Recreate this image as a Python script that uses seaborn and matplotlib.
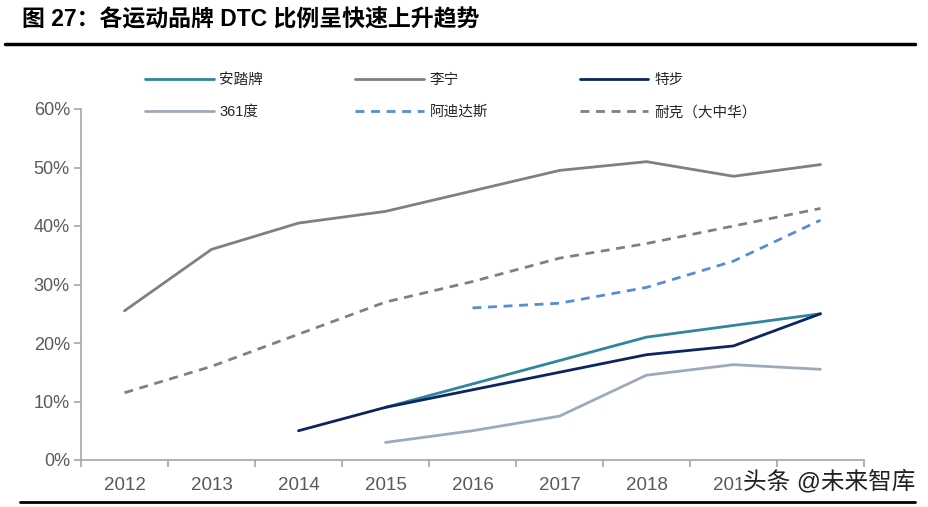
"""
各运动品牌 DTC 比例折线图 (seaborn)
"""
import matplotlib
matplotlib.use("Agg")
import matplotlib.pyplot as plt
import matplotlib.lines as mlines
import numpy as np
import pandas as pd
import seaborn as sns

years = ["2012", "2013", "2014", "2015", "2016", "2017", "2018", "2019", "2020"]

anta = [np.nan, np.nan, np.nan, 0.09, 0.13, 0.17, 0.21, 0.23, 0.25]
lining = [0.255, 0.36, 0.405, 0.425, 0.46, 0.495, 0.51, 0.485, 0.505]
xtep = [np.nan, np.nan, 0.05, 0.09, 0.12, 0.15, 0.18, 0.195, 0.25]
s361 = [np.nan, np.nan, np.nan, 0.03, 0.05, 0.075, 0.145, 0.163, 0.155]
adidas = [np.nan, np.nan, np.nan, np.nan, 0.26, 0.268, 0.295, 0.34, 0.41]
nike = [0.115, 0.16, 0.215, 0.27, 0.305, 0.345, 0.37, 0.40, 0.43]

series_names = ["安踏牌", "李宁", "特步", "361度", "阿迪达斯", "耐克（大中华）"]
series_values = [anta, lining, xtep, s361, adidas, nike]
colors = ["#31859C", "#808080", "#0B2560", "#9DAABB", "#558ED5", "#808080"]
dashed = [False, False, False, False, True, True]

sns.set_theme(style="white")
plt.rcParams["font.family"] = ["Liberation Sans", "Noto Sans CJK SC", "DejaVu Sans"]

fig = plt.figure(figsize=(9.29, 5.07), dpi=100)
ax = fig.add_axes([81 / 929, 47 / 507, (864 - 81) / 929, (460 - 109) / 507])

x_pos = np.arange(len(years))
handles = {}
for name, vals, col, dsh in zip(series_names, series_values, colors, dashed):
    df = pd.DataFrame({"x": x_pos, "y": vals}).dropna()
    kws = dict(color=col, linewidth=2.0, ax=ax, label=name)
    if dsh:
        kws["linestyle"] = (0, (3.2, 2.4))
    sns.lineplot(data=df, x="x", y="y", **kws)
    handles[name] = ax.get_lines()[-1]

if ax.get_legend() is not None:
    ax.get_legend().remove()

ax.set_xlim(-0.5, len(years) - 0.5)
ax.set_ylim(0, 0.6)
ax.set_yticks(np.arange(0, 0.61, 0.1))
ax.set_yticklabels([f"{int(round(v * 100))}%" for v in np.arange(0, 0.61, 0.1)])
ax.set_xticks(x_pos)
ax.set_xticklabels(years)
ax.set_xticks(np.arange(-0.5, len(years), 1.0), minor=True)
ax.set_xlabel("")
ax.set_ylabel("")

axis_col = "#A6A6A6"
for side in ["top", "right"]:
    ax.spines[side].set_visible(False)
for side in ["left", "bottom"]:
    ax.spines[side].set_color(axis_col)
    ax.spines[side].set_linewidth(1.2)
ax.tick_params(axis="x", which="major", length=0, pad=12, labelsize=13.5, labelcolor="#595959")
ax.tick_params(axis="x", which="minor", length=5, width=1.2, color=axis_col, direction="out", bottom=True)
ax.tick_params(axis="y", length=5, width=1.2, color=axis_col, direction="out", left=True,
               pad=3, labelsize=13, labelcolor="#595959")

order = ["安踏牌", "361度", "李宁", "阿迪达斯", "特步", "耐克（大中华）"]
fig.legend([handles[n] for n in order], order, ncol=3, frameon=False,
           loc="upper left", bbox_to_anchor=(145 / 929, (507 - 73) / 507),
           borderpad=0, borderaxespad=0, handlelength=4.7, handletextpad=0.4,
           columnspacing=6.3, labelspacing=1.25, prop={"size": 10.5})

fig.text(22 / 929, 1 - 20 / 507, "图 27：各运动品牌 DTC 比例呈快速上升趋势",
         fontsize=16.5, fontweight="bold", va="center", ha="left", color="black")
fig.add_artist(mlines.Line2D([5 / 929, 915 / 929], [1 - 44 / 507, 1 - 44 / 507],
                             color="black", linewidth=2.5))
fig.add_artist(mlines.Line2D([20 / 929, 915 / 929], [1 - 502 / 507, 1 - 502 / 507],
                             color="black", linewidth=2.0))
fig.text(915 / 929, 1 - 482 / 507, "头条 @未来智库", fontsize=17,
         va="center", ha="right", color="#222222",
         bbox=dict(facecolor="white", edgecolor="none", pad=0.5))

fig.savefig("out.png", dpi=100)
